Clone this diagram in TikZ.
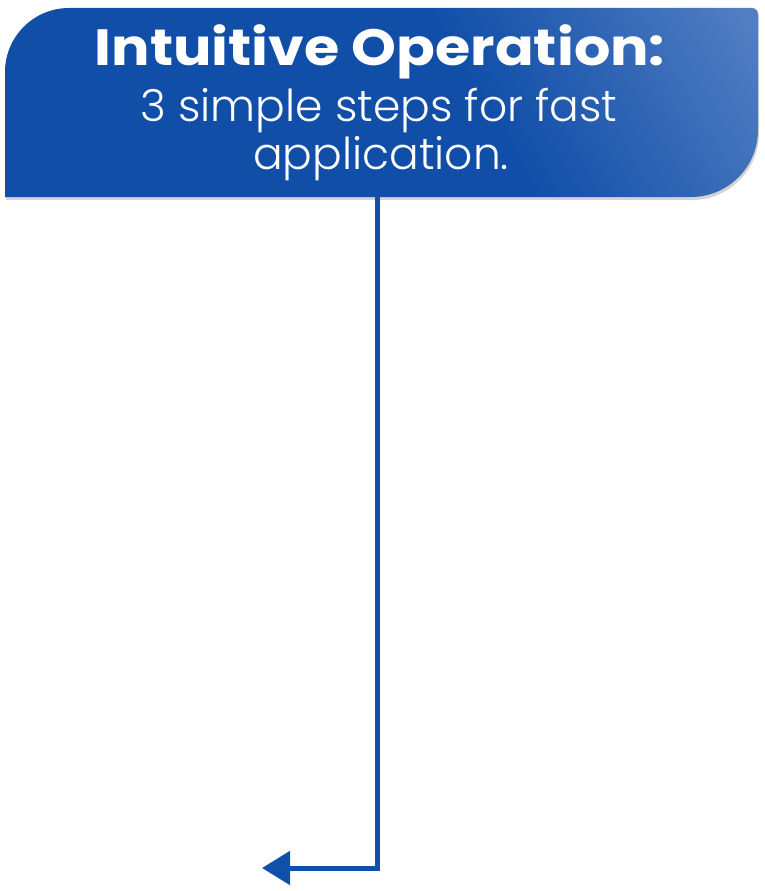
\documentclass[tikz,border=0pt]{standalone}
\usepackage{fontspec}
\setmainfont{Poppins}
\newfontfamily\lightfont{Poppins Light}
\usetikzlibrary{arrows.meta}
\usetikzlibrary{shadows}
\definecolor{boxblue}{RGB}{16,78,168}
\definecolor{boxlight}{RGB}{126,158,212}
\definecolor{lineblue}{RGB}{16,80,170}
\pgfdeclarehorizontalshading{boxshade}{100bp}{color(0bp)=(boxblue); color(58bp)=(boxblue); color(100bp)=(boxlight)}
\tikzset{
    boxfill/.style = {shading=boxshade, shading angle=30, drop shadow={opacity=0.35, shadow xshift=1pt, shadow yshift=-3pt}},
    titletext/.style = {anchor=base, inner sep=0pt, white, xscale=1.12, font=\bfseries\fontsize{51}{54}\selectfont},
    subtext/.style = {anchor=base, inner sep=0pt, white, font=\lightfont\fontsize{44}{48}\selectfont},
    flow/.style = {draw=lineblue, line width=5pt, -{Triangle[length=28pt,width=33pt]}}
}
\begin{document}
\begin{tikzpicture}[x=1pt, y=1pt]
    \useasboundingbox (0,0) rectangle (764,-891);

    % header box
    \path [boxfill] (5,-197) -- (5,-72) arc[start angle=180, end angle=90, radius=64] -- (752,-8)
        arc[start angle=90, end angle=0, radius=6] -- (758,-130)
        arc[start angle=0, end angle=-90, radius=67] -- cycle;

    \node [titletext] (title) at (380,-66) {Intuitive Operation:};
    \node [subtext] (sub1) at (379,-121) {3 simple steps for fast};
    \node [subtext] (sub2) at (381,-169) {application.};

    % connector
    \coordinate (start) at (377,-197);
    \coordinate (tip) at (262,-868);
    \draw [flow] (start) |- (tip);
\end{tikzpicture}
\end{document}
